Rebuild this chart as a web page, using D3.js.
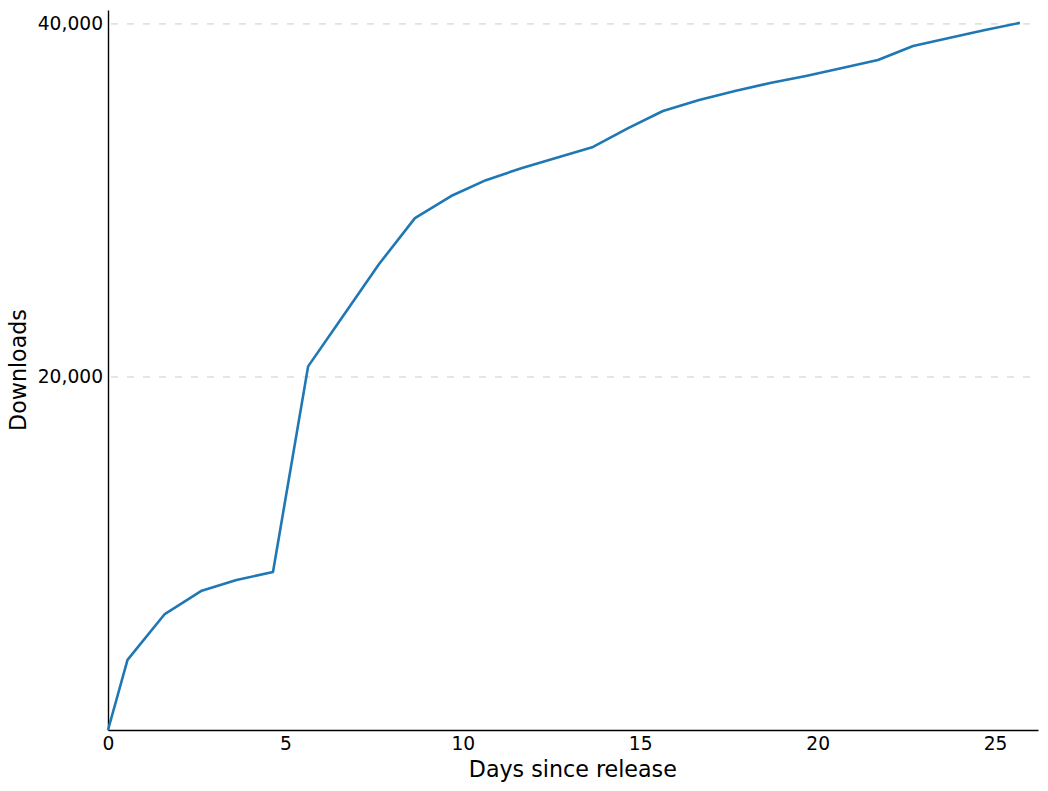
<!DOCTYPE html>
<html>
<head>
<meta charset="utf-8">
<script src="https://cdn.jsdelivr.net/npm/d3@7"></script>
<style>
  body { margin: 0; background: #fff; }
  text { font-family: "DejaVu Sans", sans-serif; fill: #000; }
</style>
</head>
<body>
<svg id="chart" width="1048" height="791"></svg>
<script>
// days since release and cumulative downloads
var days = [0, 0.55, 1.6, 2.62, 3.62, 4.65, 5.64, 6.64, 7.64, 8.65, 9.67, 10.65, 11.67,
            12.67, 13.67, 14.66, 15.64, 16.66, 17.67, 18.66, 19.67, 20.69, 21.7, 22.69,
            23.7, 24.72, 25.7];
var downloads = [0, 3970, 6570, 7870, 8500, 8950, 20600, 23500, 26400, 29000, 30250, 31150, 31840,
                 32430, 33030, 34100, 35070, 35690, 36200, 36650, 37050, 37500, 37960, 38750,
                 39200, 39660, 40060];
var xTicks = [0, 5, 10, 15, 20, 25];
var yTicks = [20000, 40000];

var margin = {left: 108, right: 10, top: 10, bottom: 61};
var width = 1048 - margin.left - margin.right;
var height = 791 - margin.top - margin.bottom;

var svg = d3.select("#chart");
var g = svg.append("g").attr("transform", "translate(" + margin.left + "," + margin.top + ")");

var x = d3.scaleLinear().domain([0, 26.21]).range([0, width]);
var y = d3.scaleLinear().domain([0, 40790]).range([height, 0]);

// dashed grid
g.selectAll(".grid")
    .data(yTicks)
    .enter()
    .append("line")
    .attr("x1", 3)
    .attr("x2", width - 6)
    .attr("y1", function(d) { return y(d); })
    .attr("y2", function(d) { return y(d); })
    .attr("stroke", "#cccccc")
    .attr("stroke-width", 1)
    .attr("stroke-dasharray", "7,9");

var xAxis = g.append("g")
    .attr("transform", "translate(0," + height + ")")
    .call(d3.axisBottom(x).tickValues(xTicks).tickSize(0).tickPadding(7).tickFormat(d3.format("d")));
var yAxis = g.append("g")
    .call(d3.axisLeft(y).tickValues(yTicks).tickSize(0).tickPadding(5).tickFormat(d3.format(",")));

[xAxis, yAxis].forEach(function(a) {
    a.select(".domain").attr("stroke", "#000").attr("stroke-width", 1.4);
    a.selectAll("text").style("font-family", "DejaVu Sans").style("font-size", "18.67px").attr("fill", "#000");
});

var line = d3.line()
    .x(function(d, i) { return x(days[i]); })
    .y(function(d) { return y(d); });

g.append("path")
    .datum(downloads)
    .attr("d", line)
    .attr("fill", "none")
    .attr("stroke", "#1f77b4")
    .attr("stroke-width", 2.6)
    .attr("stroke-linejoin", "round");

svg.append("text")
    .attr("x", margin.left + x(13.1))
    .attr("y", 777)
    .attr("text-anchor", "middle")
    .style("font-size", "22.2px")
    .text("Days since release");

svg.append("text")
    .attr("transform", "translate(26," + (margin.top + height / 2) + ") rotate(-90)")
    .attr("text-anchor", "middle")
    .style("font-size", "22.2px")
    .text("Downloads");
</script>
</body>
</html>
